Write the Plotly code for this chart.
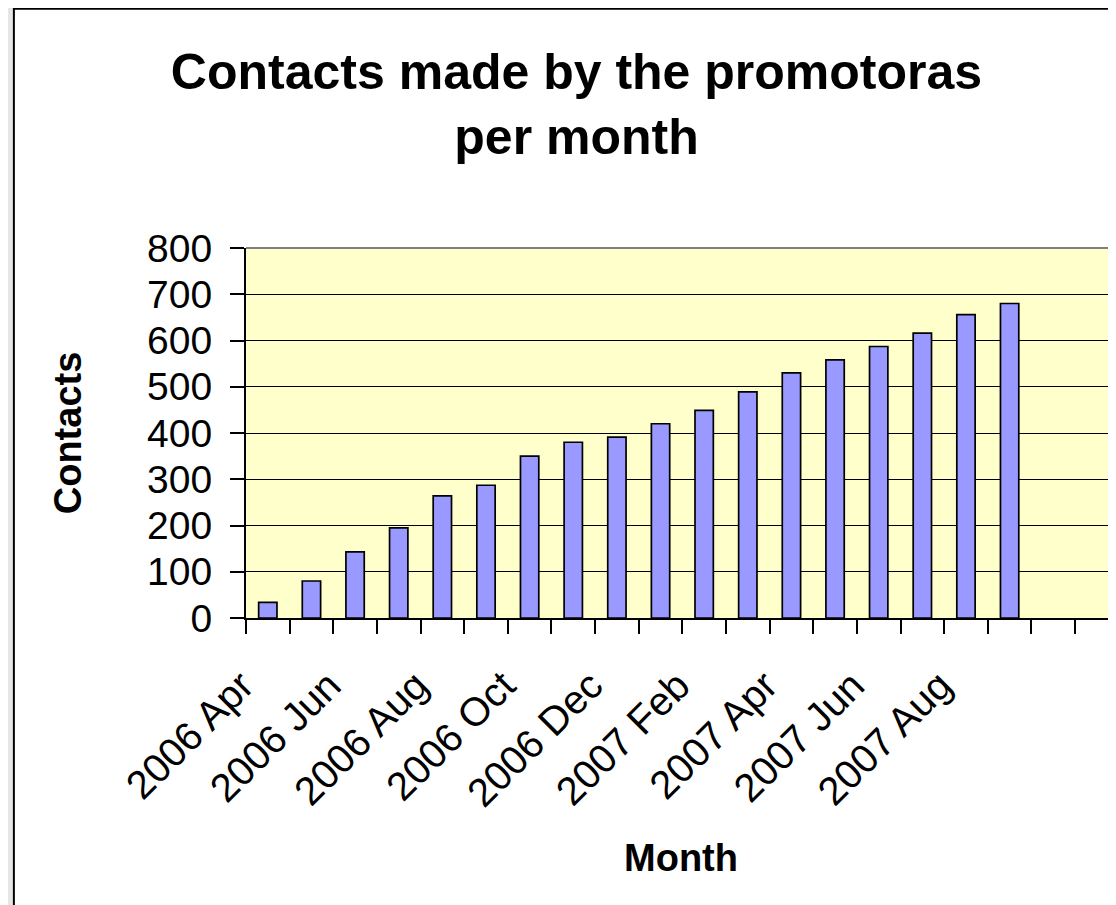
import plotly.graph_objects as go

# ---- data ----
months = ["2006 Apr", "2006 May", "2006 Jun", "2006 Jul", "2006 Aug", "2006 Sep",
          "2006 Oct", "2006 Nov", "2006 Dec", "2007 Jan", "2007 Feb", "2007 Mar",
          "2007 Apr", "2007 May", "2007 Jun", "2007 Jul", "2007 Aug", "2007 Sep"]
contacts = [34, 80, 143, 195, 264, 287, 350, 380, 391, 420, 449, 489,
            530, 558, 587, 616, 656, 680]
y_ticks = [0, 100, 200, 300, 400, 500, 600, 700, 800]

positions = list(range(len(months)))
label_pos = positions[::2]
label_txt = months[::2]

FONT = "Arial, 'Liberation Sans', sans-serif"
OFF = 8  # page body margin
W, H = 1116 - OFF, 905 - OFF
L, T, B, R = 245.7 - OFF, 248.3 - OFF, 905 - 618.3, 0

fig = go.Figure()
fig.add_trace(go.Bar(
    x=positions, y=contacts, width=0.42,
    marker=dict(color="#9999FF", line=dict(color="black", width=1.7)),
    showlegend=False,
))

def px_x(p):  # page pixel -> paper x
    return (p - OFF - L) / (W - L - R)

def px_y(p):  # page pixel -> paper y
    return (H - B - (p - OFF)) / (H - T - B)

shapes = [
    # hatched margin approximation (left strip)
    dict(type="rect", xref="paper", yref="paper", x0=px_x(0), x1=px_x(12.5), y0=px_y(915), y1=px_y(0),
         fillcolor="#E6E6E6", line=dict(width=0), layer="below"),
    # chart area border
    dict(type="rect", xref="paper", yref="paper", x0=px_x(13.5), x1=px_x(1140), y0=px_y(930), y1=px_y(9),
         fillcolor="rgba(0,0,0,0)", line=dict(color="black", width=2), layer="above"),
    # plot area top border
    dict(type="line", xref="paper", yref="paper", x0=0, x1=1, y0=1, y1=1,
         line=dict(color="#808080", width=2), layer="above"),
]

fig.update_layout(
    width=W, height=H,
    margin=dict(l=L, r=R, t=T, b=B, autoexpand=False),
    paper_bgcolor="white",
    plot_bgcolor="#FFFFCC",
    font=dict(family=FONT, color="black"),
    title=dict(
        text="<b>Contacts made by the promotoras<br>per month</b>",
        font=dict(family=FONT, size=50, color="black"),
        xref="container", x=(576.5 - OFF) / W, xanchor="center",
        yref="container", y=1 - 81 / H, yanchor="top",
    ),
    shapes=shapes,
)

fig.update_xaxes(
    range=[-0.5, -0.5 + (W - L - R) / 43.65],
    tickmode="array", tickvals=label_pos, ticktext=label_txt,
    tickangle=-45, tickfont=dict(family=FONT, size=40, color="black"),
    ticks="", ticklabelstandoff=26, ticklabelshift=-26,
    minor=dict(tick0=-0.5, dtick=1, ticks="outside", ticklen=14, tickwidth=1.5,
               tickcolor="black", showgrid=False),
    showgrid=False, zeroline=False,
    showline=True, linecolor="black", linewidth=2,
    title=dict(text="<b>Month</b>", font=dict(family=FONT, size=38, color="black"), standoff=31),
    automargin=False, fixedrange=True,
)

fig.update_yaxes(
    range=[0, 800], tickmode="array", tickvals=y_ticks,
    tickfont=dict(family=FONT, size=39, color="black"),
    ticks="outside", ticklen=14, tickwidth=1.5, tickcolor="black",
    ticklabelstandoff=10,
    showgrid=True, gridcolor="black", gridwidth=1.3,
    zeroline=False, showline=True, linecolor="black", linewidth=2,
    title=dict(text="<b>Contacts</b>", font=dict(family=FONT, size=38, color="black"), standoff=54),
    automargin=False, fixedrange=True,
)

fig.write_html("out.html")
